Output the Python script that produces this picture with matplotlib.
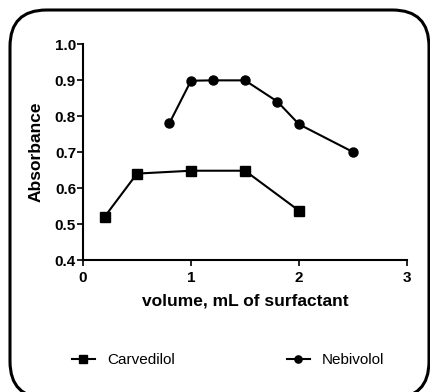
import matplotlib
matplotlib.use("Agg")
import matplotlib.pyplot as plt
from matplotlib.patches import FancyBboxPatch

plt.rcParams.update({
    "font.family": ["Liberation Sans", "DejaVu Sans"],
    "font.size": 10,
})

carv_x = [0.2, 0.5, 1.0, 1.5, 2.0]
carv_y = [0.52, 0.64, 0.648, 0.648, 0.537]
nebi_x = [0.8, 1.0, 1.2, 1.5, 1.8, 2.0, 2.5]
nebi_y = [0.78, 0.898, 0.899, 0.899, 0.84, 0.777, 0.70]

xticks = [0, 1, 2, 3]
yticks = [0.4, 0.5, 0.6, 0.7, 0.8, 0.9, 1.0]

W, H = 430, 392
fig = plt.figure(figsize=(W / 100, H / 100), dpi=100)

# rounded frame around everything (runs slightly off the bottom edge)
frame = FancyBboxPatch((10 / W, -6 / H), 419 / W, 388 / H,
                       boxstyle="round,pad=0,rounding_size=0.085",
                       transform=fig.transFigure, fill=False,
                       edgecolor="black", linewidth=2.2, zorder=0,
                       mutation_aspect=W / H)
fig.patches.append(frame)

ax = fig.add_axes([83 / W, 1 - 260 / H, (407 - 83) / W, (260 - 44) / H])

l1, = ax.plot(carv_x, carv_y, "-s", color="black", lw=1.5, ms=7, clip_on=False)
l2, = ax.plot(nebi_x, nebi_y, "-o", color="black", lw=1.5, ms=6.5, clip_on=False)

ax.set_xlim(0, 3)
ax.set_ylim(0.4, 1.0)
ax.set_xticks(xticks)
ax.set_yticks(yticks)
ax.set_xticklabels([str(v) for v in xticks], fontweight="bold", fontsize=11)
ax.set_yticklabels([f"{v:.1f}" for v in yticks], fontweight="bold", fontsize=11)
ax.tick_params(axis="x", direction="out", length=4, width=1.2, pad=4)
ax.tick_params(axis="y", direction="out", length=4, width=1.2, pad=1)

for s in ["top", "right"]:
    ax.spines[s].set_visible(False)
for s in ["left", "bottom"]:
    ax.spines[s].set_linewidth(1.5)

ax.set_xlabel("volume, mL of surfactant", fontweight="bold", fontsize=12.5, labelpad=6)
ax.set_ylabel("Absorbance", fontweight="bold", fontsize=12.5, labelpad=8)

fig.legend([l1], ["Carvedilol"], loc="center left", bbox_to_anchor=(58 / W, 1 - 360 / H),
           frameon=False, handlelength=1.5, handletextpad=0.8, fontsize=11, markerscale=0.8)
fig.legend([l2], ["Nebivolol"], loc="center left", bbox_to_anchor=(273 / W, 1 - 360 / H),
           frameon=False, handlelength=1.5, handletextpad=0.8, fontsize=11, markerscale=0.8)

fig.savefig("out.png", dpi=100)
